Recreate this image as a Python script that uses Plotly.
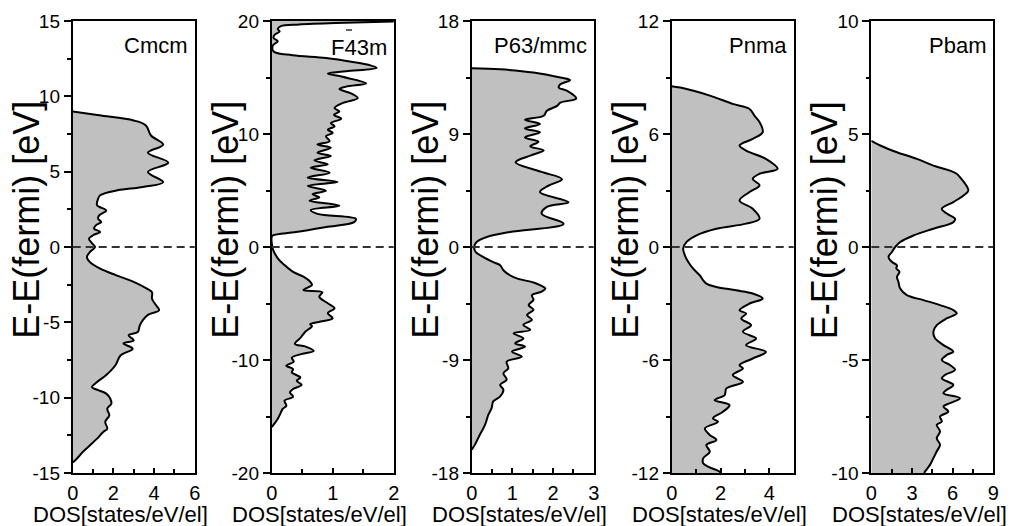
import plotly.graph_objects as go

# ---------------- data: density of states vs. energy (E - E_fermi) ----------------
cmcm_energy = [9.0, 8.74, 8.4, 8.07, 7.4, 6.8, 6.26, 5.6, 4.98, 4.31, 3.98, 3.76, 3.43, 3.2, 2.77,
               2.43, 2.1, 1.88, 1.66, 1.45, 1.22, 1.0, 0.78, 0.55, 0.25, 0.0, -0.33, -0.66, -1.0,
               -1.44, -1.88, -2.32, -2.77, -3.0, -3.43, -3.87, -4.2, -4.5, -4.85, -5.2, -5.64,
               -5.86, -6.2, -6.4, -6.75, -7.2, -7.85, -8.5, -8.96, -9.3, -9.5, -9.73, -10.07,
               -10.4, -10.73, -11.17, -11.6, -12.06, -12.28, -12.72, -13.16, -13.6, -14.05, -14.3]
cmcm_dos = [0.0, 1.3, 3.0, 3.6, 3.85, 4.45, 3.7, 4.7, 3.7, 4.45, 3.45, 2.2, 1.35, 1.25, 1.2,
            1.65, 1.3, 1.25, 1.4, 1.15, 1.05, 1.35, 1.0, 0.8, 0.95, 1.1, 0.85, 0.7, 0.85,
            1.35, 2.15, 3.0, 3.65, 3.9, 3.9, 4.1, 4.25, 3.7, 3.45, 3.3, 3.2,
            2.75, 3.0, 2.5, 2.95, 2.35, 2.1, 1.65, 1.2, 0.95, 1.25, 1.65, 1.85,
            1.9, 1.7, 1.8, 1.6, 1.7, 1.5, 1.2, 0.85, 0.5, 0.2, 0.0]

f43m_energy = [20.0, 19.85, 19.7, 19.55, 19.3, 19.07, 18.8, 18.5, 18.2, 17.85, 17.3, 16.97, 16.73,
               16.38, 16.1, 15.85, 15.55, 15.35, 15.06, 14.48, 14.19, 13.98, 13.6, 13.17, 12.73,
               12.29, 12.0, 11.7, 11.35, 10.97, 10.68, 10.38, 10.1, 9.8, 9.36, 9.07, 8.78, 8.34,
               8.05, 7.67, 7.32, 7.02, 6.58, 6.14, 5.76, 5.41, 4.97, 4.68, 4.39, 4.1, 3.66, 3.28,
               2.93, 2.49, 2.2, 1.76, 1.32, 1.03, 0.9, -0.2, -1.0, -1.6, -2.2, -2.63, -3.07,
               -3.37, -3.8, -4.0, -4.4, -4.98, -5.42, -5.86, -6.3, -6.6, -6.83, -7.0, -7.5,
               -8.04, -8.57, -8.8, -9.2, -9.5, -9.8, -10.15, -10.5, -10.8, -11.1, -11.55,
               -11.84, -12.2, -12.57, -12.87, -13.25, -13.6, -14.04, -14.33, -14.77, -15.2,
               -15.66, -15.95]
f43m_dos = [2.3, 1.2, 0.45, 0.15, 0.1, 0.13, 0.05, 0.03, 0.1, 0.02, 0.03, 0.34, 0.89,
            1.33, 1.6, 1.72, 1.22, 0.92, 1.16, 1.55, 1.22, 1.11, 1.3, 1.41, 1.16,
            1.03, 1.11, 1.02, 1.14, 0.97, 1.03, 0.92, 1.0, 0.89, 0.95, 0.75, 0.97, 0.75,
            0.97, 0.7, 0.92, 0.64, 0.95, 0.59, 1.08, 0.59, 0.89, 0.67, 0.78, 0.62, 1.11, 0.64,
            0.75, 1.38, 1.35, 0.89, 0.4, 0.02, 0.0, 0.02, 0.1, 0.21, 0.35, 0.52, 0.63,
            0.66, 0.52, 0.83, 0.78, 0.92, 1.03, 0.92, 1.0, 0.8, 0.63, 0.66, 0.55,
            0.47, 0.38, 0.55, 0.69, 0.47, 0.33, 0.36, 0.24, 0.35, 0.33, 0.47,
            0.41, 0.49, 0.35, 0.3, 0.35, 0.21, 0.24, 0.18, 0.14, 0.1,
            0.04, 0.0]

p63_energy = [14.23, 14.15, 13.9, 13.5, 13.3, 12.96, 12.7, 12.43, 11.83, 11.5, 11.24, 10.85,
              10.45, 10.13, 9.79, 9.44, 9.13, 8.73, 8.39, 8.02, 7.7, 7.28, 6.75, 6.0, 5.4, 4.9,
              4.37, 3.57, 3.2, 2.65, 1.85, 1.2, 0.8, 0.4, 0.0, -0.4, -0.8, -1.2, -1.45, -1.85,
              -2.25, -2.5, -2.83, -3.04, -3.3, -3.55, -3.84, -4.2, -4.63, -5.0, -5.42, -5.8,
              -6.2, -6.6, -6.88, -7.28, -7.67, -7.94, -8.33, -8.73, -9.13, -9.66, -10.05,
              -10.58, -10.98, -11.37, -11.9, -12.3, -12.83, -13.36, -14.15, -14.95, -15.74,
              -16.14]
p63_dos = [0.0, 0.7, 1.52, 2.18, 2.42, 2.18, 2.14, 2.35, 2.57, 2.18, 2.1, 1.85,
           1.77, 1.31, 1.68, 1.31, 1.68, 1.31, 1.64, 1.44, 1.77, 1.44, 1.08, 1.7, 2.22, 1.9,
           1.68, 2.38, 1.85, 1.72, 2.26, 0.94, 0.37, 0.12, 0.06, 0.1, 0.29, 0.53, 0.7, 0.78,
           0.94, 1.11, 1.52, 1.68, 1.81, 1.72, 1.48, 1.52, 1.4, 1.52, 1.36, 1.48,
           1.27, 1.44, 1.03, 1.27, 1.07, 1.31, 0.99, 1.23, 0.86, 0.9, 0.78,
           0.86, 0.7, 0.78, 0.7, 0.53, 0.49, 0.41, 0.33, 0.2, 0.08,
           0.0]

pnma_energy = [8.53, 8.39, 8.04, 7.6, 7.33, 6.98, 6.63, 6.1, 5.74, 5.39, 5.12, 4.68, 4.15, 3.89,
               3.62, 3.27, 2.92, 2.47, 2.03, 1.5, 1.24, 0.97, 0.62, 0.27, -0.09, -0.44, -0.8,
               -1.15, -1.5, -1.77, -1.94, -2.12, -2.3, -2.47, -2.74, -3.0, -3.36, -3.53, -3.8,
               -4.15, -4.5, -4.86, -5.21, -5.57, -5.92, -6.27, -6.45, -6.8, -7.16, -7.51, -7.86,
               -8.13, -8.39, -8.75, -9.1, -9.28, -9.63, -9.98, -10.25, -10.51, -10.87, -11.22,
               -11.48, -11.66, -11.93, -12.0]
pnma_dos = [0.0, 0.61, 1.56, 2.5, 3.19, 3.39, 3.6, 3.73, 3.32, 2.78, 3.05, 3.86, 4.34, 3.6,
            3.32, 3.6, 3.19, 2.78, 3.32, 3.6, 3.05, 1.83, 1.02, 0.61, 0.47, 0.54, 0.68,
            0.88, 1.15, 1.29, 1.42, 1.83, 2.64, 3.32, 3.73, 3.19, 2.78, 3.05, 2.85,
            3.25, 2.92, 3.46, 3.05, 3.86, 3.32, 2.78, 2.92, 2.5, 2.92, 2.24, 2.17,
            1.76, 2.37, 2.1, 1.69, 1.9, 1.36, 1.56, 1.83, 1.42, 1.56, 1.29,
            1.29, 1.49, 1.97, 2.0]

pbam_energy = [4.7, 4.49, 4.19, 3.9, 3.6, 3.38, 3.24, 3.09, 2.5, 2.28, 1.99, 1.69, 1.47, 1.25,
               1.1, 0.81, 0.51, 0.22, 0.0, -0.22, -0.44, -0.66, -0.81, -0.95, -1.1, -1.32,
               -1.54, -1.84, -2.13, -2.35, -2.57, -2.79, -2.94, -3.16, -3.46, -3.75, -4.04,
               -4.34, -4.63, -4.78, -5.0, -5.22, -5.44, -5.66, -5.81, -6.1, -6.32, -6.47, -6.69,
               -6.91, -7.06, -7.28, -7.5, -7.72, -7.87, -8.16, -8.46, -8.75, -9.04, -9.34,
               -9.63, -9.93, -10.0]
pbam_dos = [0.0, 0.66, 1.89, 3.36, 4.58, 5.8, 6.3, 6.54, 7.16, 6.8, 6.05, 5.2, 5.6, 6.18,
            6.05, 4.58, 3.11, 2.13, 1.76, 1.52, 1.27, 1.52, 1.89, 1.85, 2.08, 1.89,
            2.0, 2.13, 2.62, 3.85, 5.07, 6.05, 6.3, 5.56, 4.83, 4.58, 4.7,
            5.32, 6.05, 5.56, 5.2, 5.8, 6.18, 5.44, 5.2, 6.05, 5.56, 5.32, 6.54,
            5.8, 5.32, 5.68, 5.07, 5.2, 4.83, 5.07, 4.83, 5.07, 4.83, 4.58,
            4.34, 3.97, 3.9]

phase_names = ["Cmcm", "F43m", "P63/mmc", "Pnma", "Pbam"]
dos_ranges = [[0, 6], [0, 2], [0, 3], [0, 5], [0, 9]]
dos_ticks = [[0, 2, 4, 6], [0, 1, 2], [0, 1, 2, 3], [0, 2, 4], [0, 3, 6, 9]]
dos_minor = [1, 0.5, 0.5, 1, 1.5]
energy_ranges = [[-15, 15], [-20, 20], [-18, 18], [-12, 12], [-10, 10]]
energy_ticks = [[-15, -10, -5, 0, 5, 10, 15], [-20, -10, 0, 10, 20], [-18, -9, 0, 9, 18],
                [-12, -6, 0, 6, 12], [-10, -5, 0, 5, 10]]
energy_minor = [2.5, 5, 4.5, 3, 2.5]
energies = [cmcm_energy, f43m_energy, p63_energy, pnma_energy, pbam_energy]
densities = [cmcm_dos, f43m_dos, p63_dos, pnma_dos, pbam_dos]

y_title = "E-E(fermi) [eV]"
x_title = "DOS[states/eV/el]"

# ---------------- layout geometry (pixels) ----------------
W, H = 1020, 526
panel_left = [72.7, 271.7, 471.7, 671.7, 871.3]
panel_w = 122.0
plot_top, plot_bottom = 21.0, 473.0
FONT = "Liberation Sans, Arial, sans-serif"


def px_x(v):
    return v / W


def px_y(v):
    return 1 - v / H


def tick_text(vals):
    # plain hyphen-minus, as in the printed figure
    return ["%g" % v for v in vals]


fig = go.Figure()
layout = dict(
    template="none",
    width=W, height=H,
    margin=dict(l=0, r=0, t=0, b=0, autoexpand=False),
    paper_bgcolor="white", plot_bgcolor="white",
    showlegend=False,
    font=dict(family=FONT, color="black"),
)
shapes, annotations = [], []

for i in range(5):
    n = "" if i == 0 else str(i + 1)
    xa, ya = "x" + n, "y" + n
    left = panel_left[i]

    fig.add_trace(go.Scatter(
        x=densities[i], y=energies[i], mode="lines",
        line=dict(color="black", width=2, shape="spline", smoothing=1.0),
        fill="tozerox", fillcolor="#c0c0c0",
        xaxis=xa, yaxis=ya, hoverinfo="skip",
    ))

    layout["xaxis" + n] = dict(
        domain=[px_x(left), px_x(left + panel_w)], anchor=ya, automargin=False,
        range=dos_ranges[i], tickmode="array",
        tickvals=dos_ticks[i], ticktext=tick_text(dos_ticks[i]),
        ticks="inside", ticklen=5, tickwidth=1.5, tickcolor="black",
        minor=dict(ticks="inside", tick0=0, dtick=dos_minor[i], ticklen=4, tickwidth=1.5,
                   tickcolor="black", showgrid=False),
        showline=True, linecolor="black", linewidth=1.8, mirror=True,
        showgrid=False, zeroline=False,
        tickfont=dict(size=20, family=FONT, color="black"),
        ticklabelstandoff=1,
    )
    layout["yaxis" + n] = dict(
        domain=[px_y(plot_bottom), px_y(plot_top)], anchor=xa, automargin=False,
        range=energy_ranges[i], tickmode="array",
        tickvals=energy_ticks[i], ticktext=tick_text(energy_ticks[i]),
        ticks="outside", ticklen=7, tickwidth=1.5, tickcolor="black",
        minor=dict(ticks="outside", tick0=0, dtick=energy_minor[i], ticklen=3.5,
                   tickwidth=1.5, tickcolor="black", showgrid=False),
        showline=True, linecolor="black", linewidth=1.8, mirror=True,
        showgrid=False, zeroline=False,
        tickfont=dict(size=19, family=FONT, color="black"),
    )

    # Fermi level
    shapes.append(dict(
        type="line", xref=xa + " domain", yref=ya, x0=0, x1=1, y0=0, y1=0,
        line=dict(color="#333333", width=2, dash="8px,5px"), layer="above",
    ))

    # phase label
    annotations.append(dict(
        text=phase_names[i], xref="paper", yref="paper",
        x=px_x(left + panel_w - 5), y=px_y(47 if i == 1 else 45),
        xanchor="right", yanchor="middle", showarrow=False,
        font=dict(size=22, family=FONT, color="black"),
    ))
    # axis titles
    annotations.append(dict(
        text=y_title, xref="paper", yref="paper",
        x=px_x(left - 47), y=px_y(220), textangle=-90,
        xanchor="center", yanchor="middle", showarrow=False,
        font=dict(size=36, family=FONT, color="black"),
    ))
    annotations.append(dict(
        text=x_title, xref="paper", yref="paper",
        x=px_x(left + 48), y=px_y(514),
        xanchor="center", yanchor="middle", showarrow=False,
        font=dict(size=22, family=FONT, color="black"),
    ))

# overbar of the 4 in F-43m
shapes.append(dict(
    type="line", xref="paper", yref="paper",
    x0=px_x(346), x1=px_x(352), y0=px_y(30), y1=px_y(30),
    line=dict(color="black", width=1.2),
))

layout["shapes"] = shapes
layout["annotations"] = annotations
fig.update_layout(**layout)
fig.write_html("out.html")
